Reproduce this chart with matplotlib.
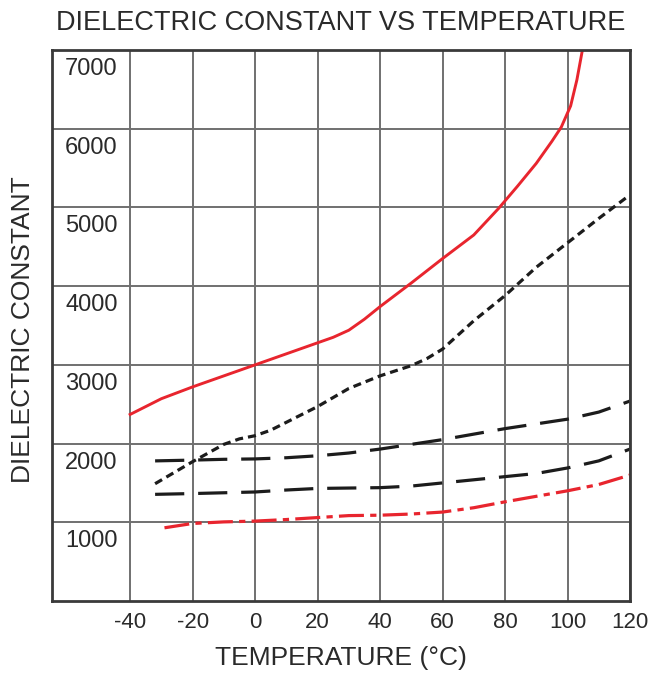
import matplotlib
matplotlib.use("Agg")
import matplotlib.pyplot as plt
from matplotlib.transforms import offset_copy

plt.rcParams['font.family'] = ['Liberation Sans', 'DejaVu Sans']
plt.rcParams['lines.scale_dashes'] = False

# curve values (temperature in degC, dielectric constant)
red_t = [-40, -30, -20, -10, 0, 10, 20, 25, 30, 35, 40, 50, 60, 70, 78, 84, 90, 95,
         98, 101, 103, 105]
red_k = [2370, 2570, 2720, 2860, 3000, 3140, 3280, 3350, 3440, 3580, 3740, 4040,
         4350, 4650, 4990, 5270, 5560, 5840, 6020, 6290, 6620, 7050]

short_t = [-32, -20, -10, -5, 0, 5, 10, 20, 30, 40, 50, 55, 60, 70, 80, 90, 100, 110, 119]
short_k = [1490, 1770, 1990, 2060, 2100, 2170, 2270, 2470, 2700, 2860, 2990, 3080,
           3200, 3560, 3880, 4240, 4550, 4860, 5130]

upper_t = [-32, -20, -10, 0, 10, 20, 30, 40, 50, 60, 70, 80, 90, 100, 110, 120]
upper_k = [1780, 1790, 1800, 1805, 1820, 1845, 1880, 1930, 1990, 2050, 2120, 2190,
           2250, 2310, 2400, 2540]

lower_t = [-32, -20, -10, 0, 10, 20, 30, 40, 50, 60, 70, 80, 90, 100, 110, 120]
lower_k = [1355, 1365, 1375, 1385, 1410, 1430, 1435, 1440, 1460, 1500, 1540, 1580,
           1620, 1690, 1780, 1930]

dd_t = [-29, -20, -10, 0, 10, 20, 30, 40, 50, 60, 70, 80, 90, 100, 110, 120]
dd_k = [930, 985, 1005, 1015, 1035, 1060, 1085, 1090, 1105, 1130, 1185, 1260, 1330,
        1400, 1480, 1600]

x_ticks = [-40, -20, 0, 20, 40, 60, 80, 100, 120]
y_ticks = [1000, 2000, 3000, 4000, 5000, 6000, 7000]

RED = '#e8252e'
BLACK = '#1c1c1c'
TEXT = '#2a2a2a'

fig = plt.figure(figsize=(6.52, 6.75), dpi=100)
ax = fig.add_axes([52 / 652, 1 - 601 / 675, 578 / 652, 551 / 675])

ax.plot(red_t, red_k, color=RED, lw=2.1, solid_joinstyle='round')
ax.plot(short_t, short_k, color=BLACK, lw=2.3, dashes=(5.8, 3.6))
ax.plot(upper_t, upper_k, color=BLACK, lw=2.3, dashes=(21, 10))
ax.plot(lower_t, lower_k, color=BLACK, lw=2.3, dashes=(21, 10))
ax.plot(dd_t, dd_k, color=RED, lw=2.3, dashes=(18, 4.5, 4.5, 4.5))

ax.set_xlim(-65, 120)
ax.set_ylim(0, 7000)
ax.set_xticks(x_ticks)
ax.set_xticklabels([str(t) for t in x_ticks], fontsize=16, color=TEXT)
ax.set_yticks(y_ticks[:-1])
ax.tick_params(axis='both', length=0)
ax.tick_params(axis='x', pad=8)
ax.tick_params(axis='y', labelleft=False)
ax.grid(True, color='#707070', lw=1.4)
ax.set_axisbelow(True)
for s in ax.spines.values():
    s.set_color('#3a3a3a')
    s.set_linewidth(2.0)

# value labels sit inside the frame, just under each gridline
lab_tr = offset_copy(ax.transData, fig=fig, y=-18, units='points')
for v in y_ticks:
    ax.text(-60.8, v, str(v), transform=lab_tr, ha='left', va='baseline',
            fontsize=17, color=TEXT)

fig.text(341 / 652, 1 - 30 / 675, 'DIELECTRIC CONSTANT VS TEMPERATURE',
         ha='center', va='baseline', fontsize=19.5, color=TEXT)
fig.text(341 / 652, 1 - 665 / 675, 'TEMPERATURE (°C)',
         ha='center', va='baseline', fontsize=19, color=TEXT)
fig.text(23 / 652, 1 - 330 / 675, 'DIELECTRIC CONSTANT', rotation=90,
         ha='center', va='center', fontsize=19, color=TEXT)

fig.savefig('out.png', dpi=100)
plt.close()
